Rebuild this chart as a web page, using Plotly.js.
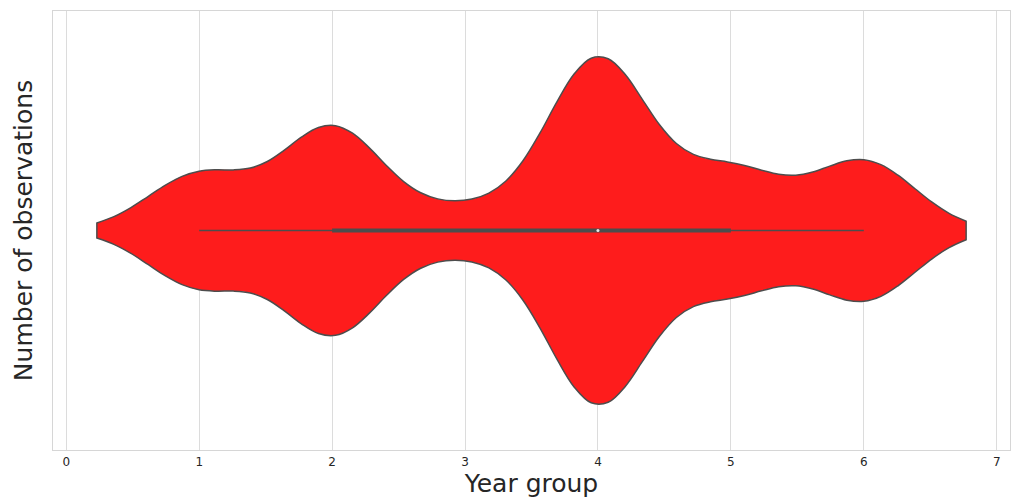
<!DOCTYPE html>
<html>
<head>
<meta charset="utf-8">
<script src="https://cdn.plot.ly/plotly-3.0.1.min.js"></script>
<style>html,body{margin:0;padding:0;background:#fff;}#chart{width:1014px;height:498px;}</style>
</head>
<body>
<div id="chart"></div>
<script>
const yearGroups = [1, 2, 3, 4, 5, 6];
const counts = [56, 103, 21, 172, 60, 69];
const xTicks = [0, 1, 2, 3, 4, 5, 6, 7];

// Expand to raw observations
const obs = [];
yearGroups.forEach((g, i) => { for (let k = 0; k < counts[i]; k++) obs.push(g); });
obs.sort((a, b) => a - b);

function quantile(arr, q) {
  const pos = (arr.length - 1) * q;
  const lo = Math.floor(pos), hi = Math.ceil(pos);
  return arr[lo] + (arr[hi] - arr[lo]) * (pos - lo);
}
const q1 = quantile(obs, 0.25), med = quantile(obs, 0.5), q3 = quantile(obs, 0.75);
const iqr = q3 - q1;
const wLo = Math.min(...obs.filter(v => v >= q1 - 1.5 * iqr));
const wHi = Math.max(...obs.filter(v => v <= q3 + 1.5 * iqr));

const edge = '#4d4d4d';
const traces = [
  {
    type: 'violin', orientation: 'h', x: obs, y0: 0,
    bandwidth: 0.385, spanmode: 'soft', scalemode: 'width', width: 0.785,
    fillcolor: '#fe1c1c', opacity: 1,
    line: {color: edge, width: 1.5},
    points: false, box: {visible: false}, meanline: {visible: false},
    hoverinfo: 'skip', showlegend: false
  },
  {type: 'scatter', mode: 'lines', x: [wLo, wHi], y: [0, 0],
   line: {color: edge, width: 1.3}, hoverinfo: 'skip', showlegend: false},
  {type: 'scatter', mode: 'lines', x: [q1, q3], y: [0, 0],
   line: {color: edge, width: 4}, hoverinfo: 'skip', showlegend: false},
  {type: 'scatter', mode: 'markers', x: [med], y: [0],
   marker: {color: '#e8e8e8', size: 3, line: {width: 0}}, hoverinfo: 'skip', showlegend: false}
];

const layout = {
  width: 1014, height: 498,
  margin: {l: 53, r: 4, t: 11, b: 48},
  paper_bgcolor: '#ffffff', plot_bgcolor: '#ffffff',
  font: {family: 'DejaVu Sans', color: '#262626'},
  showlegend: false,
  xaxis: {
    range: [-0.1, 7.1], tickmode: 'array', tickvals: xTicks, ticktext: xTicks.map(String),
    showgrid: true, gridcolor: '#dcdcdc', gridwidth: 1, zeroline: false,
    showline: true, linecolor: '#d6d6d6', linewidth: 1.2, mirror: true,
    ticks: '', tickfont: {size: 12, color: '#262626'},
    title: {text: 'Year group', font: {size: 25, color: '#262626'}, standoff: 5}
  },
  yaxis: {
    range: [0.5, -0.5], showticklabels: false, showgrid: false, zeroline: false,
    showline: true, linecolor: '#d6d6d6', linewidth: 1.2, mirror: true, ticks: '',
    title: {text: 'Number of observations', font: {size: 25, color: '#262626'}, standoff: 12}
  }
};

Plotly.newPlot('chart', traces, layout, {displayModeBar: false, staticPlot: true});
</script>
</body>
</html>
